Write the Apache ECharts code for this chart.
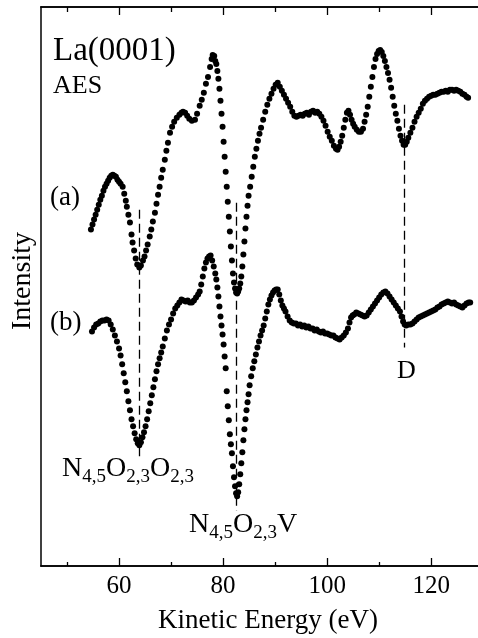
<!DOCTYPE html>
<html>
<head>
<meta charset="utf-8">
<script src="https://cdn.jsdelivr.net/npm/echarts@6/dist/echarts.min.js"></script>
<style>
	html, body { margin: 0; padding: 0; background: #fff; }
	#chart { width: 478px; height: 638px; }
</style>
</head>
<body>
<div id="chart"></div>
<script>
// 横轴刻度
var majorTicks = [60, 80, 100, 120];
var minorTicks = [50, 70, 90, 110];
var tickLabels = [60, 80, 100, 120];

// 谱线 (a)：[动能 eV, 强度]
var curveA = [
	[54.6,337],[54.9,342],[55.2,347],[55.5,352],[55.8,357],[56.1,362],[56.4,367],[56.7,371],[57.0,376],[57.3,380],
	[57.6,383],[57.9,386],[58.2,389],[58.5,391],[58.8,392],[59.1,391],[59.4,390],[59.7,387],[60.0,385],[60.3,383],
	[60.7,380],[61.0,373],[61.3,366],[61.5,360],[61.8,352],[62.1,344],[62.4,332],[62.6,324],[62.9,316],[63.2,308],
	[63.5,302],[63.9,299],[64.2,301],[64.6,306],[64.9,310],[65.2,316],[65.5,322],[65.9,330],[66.2,337],[66.5,345],
	[66.9,354],[67.2,363],[67.5,372],[67.8,380],[68.1,389],[68.4,397],[68.8,407],[69.1,416],[69.4,424],[69.8,434],
	[70.2,440],[70.6,445],[71.1,449],[71.6,452],[72.0,454],[72.3,455],[72.7,454],[73.1,451],[73.5,448],[74.0,446],
	[74.6,447],[75.0,453],[75.5,461],[75.9,467],[76.3,474],[76.7,483],[77.1,490],[77.5,500],[77.8,508],[78.0,512],
	[78.3,511],[78.5,506],[78.7,503],[78.9,496],[79.1,488],[79.3,478],[79.5,466],[79.7,453],[79.9,440],[80.1,425],
	[80.3,410],[80.5,395],[80.7,380],[80.9,365],[81.1,350],[81.3,335],[81.5,320],[81.7,306],[81.9,293],[82.1,284],
	[82.3,278],[82.5,274],[82.7,273],[82.9,275],[83.1,278],[83.3,283],[83.5,290],[83.7,300],[83.9,312],[84.1,325],
	[84.3,338],[84.5,350],[84.7,361],[84.9,371],[85.2,380],[85.5,390],[85.8,400],[86.1,410],[86.4,418],[86.7,426],
	[87.0,433],[87.3,439],[87.7,447],[88.1,455],[88.5,462],[88.9,468],[89.3,473],[89.7,478],[90.1,482],[90.5,484],
	[90.9,480],[91.3,476],[91.7,472],[92.1,468],[92.5,464],[92.9,460],[93.3,455],[93.7,451],[94.1,450],[94.5,451],
	[94.9,452],[95.3,451],[95.7,453],[96.1,454],[96.5,452],[96.9,455],[97.3,456],[97.7,454],[98.1,455],[98.5,453],
	[98.9,450],[99.3,446],[99.7,441],[100.1,435],[100.5,430],[100.9,426],[101.3,421],[101.7,418],[102.0,417],[102.3,420],
	[102.6,425],[102.9,431],[103.2,439],[103.5,447],[103.8,454],[104.1,456],[104.4,452],[104.7,447],[105.0,443],[105.3,440],
	[105.7,437],[106.1,435],[106.5,435],[106.9,438],[107.2,445],[107.5,452],[107.8,460],[108.1,470],[108.4,480],[108.7,490],
	[109.0,500],[109.3,508],[109.6,513],[109.9,516],[110.2,517],[110.5,515],[110.8,511],[111.1,506],[111.4,500],[111.7,494],
	[112.0,487],[112.3,479],[112.6,470],[112.9,461],[113.2,453],[113.5,446],[113.8,438],[114.1,431],[114.4,426],[114.7,422],
	[115.0,422],[115.3,425],[115.6,429],[116.0,434],[116.4,439],[116.8,445],[117.2,450],[117.6,454],[118.0,458],[118.4,463],
	[118.8,466],[119.2,468],[119.6,470],[120.0,471],[120.4,472],[120.8,472],[121.2,473],[121.6,474],[122.0,475],[122.4,475],
	[122.8,476],[123.2,475],[123.6,477],[124.0,477],[124.4,476],[124.8,477],[125.2,476],[125.6,475],[126.0,473],[126.4,472],
	[126.8,470],[127.1,469]
];

// 谱线 (b)
var curveB = [
	[54.8,235],[55.2,239],[55.6,242],[56.0,243],[56.4,245],[56.8,246],[57.2,246],[57.6,247],[58.0,246],[58.4,242],
	[58.8,237],[59.2,231],[59.6,225],[60.0,218],[60.3,211],[60.6,202],[60.9,193],[61.2,184],[61.5,175],[61.8,165],
	[62.1,156],[62.4,147],[62.7,140],[63.0,133],[63.3,127],[63.6,123],[63.9,121],[64.2,124],[64.5,129],[64.8,134],
	[65.1,140],[65.4,147],[65.7,155],[66.0,163],[66.3,171],[66.6,179],[66.9,187],[67.2,195],[67.5,202],[67.8,208],
	[68.1,214],[68.4,220],[68.8,228],[69.2,236],[69.6,242],[70.0,247],[70.4,253],[70.8,258],[71.2,261],[71.6,264],
	[72.0,267],[72.4,266],[72.8,265],[73.2,266],[73.6,264],[74.0,264],[74.4,266],[74.8,269],[75.2,272],[75.5,275],
	[75.8,282],[76.1,290],[76.4,298],[76.7,304],[77.0,308],[77.3,310],[77.6,311],[77.9,306],[78.2,300],[78.5,293],
	[78.7,287],[78.9,279],[79.1,270],[79.3,260],[79.5,250],[79.7,241],[79.9,232],[80.1,222],[80.3,210],[80.5,198],
	[80.7,175],[80.9,160],[81.1,146],[81.3,132],[81.5,122],[81.7,113],[81.9,100],[82.1,89],[82.3,80],[82.5,73],
	[82.7,70],[82.9,74],[83.1,82],[83.3,92],[83.5,103],[83.7,114],[83.9,126],[84.1,137],[84.3,147],[84.5,156],
	[84.7,164],[84.9,172],[85.1,181],[85.4,190],[85.7,198],[86.0,205],[86.3,212],[86.6,219],[86.9,225],[87.2,231],
	[87.5,236],[87.8,241],[88.1,248],[88.4,255],[88.7,262],[89.0,267],[89.3,271],[89.6,274],[89.9,276],[90.2,277],
	[90.5,277],[90.8,272],[91.1,266],[91.4,261],[91.7,258],[92.0,255],[92.4,250],[92.8,246],[93.2,244],[93.6,243],
	[94.0,243],[94.4,241],[94.8,242],[95.2,240],[95.6,241],[96.0,239],[96.4,240],[96.8,238],[97.2,238],[97.6,236],
	[98.0,237],[98.4,235],[98.8,234],[99.2,235],[99.6,233],[100.0,233],[100.4,232],[100.8,231],[101.2,231],[101.6,229],
	[102.0,228],[102.4,227],[102.8,229],[103.2,231],[103.6,234],[104.0,238],[104.3,244],[104.6,249],[104.9,251],[105.2,252],
	[105.6,254],[106.0,253],[106.4,252],[106.8,251],[107.2,250],[107.6,251],[108.0,254],[108.4,257],[108.8,260],[109.2,263],
	[109.6,266],[110.0,269],[110.4,272],[110.8,274],[111.2,275],[111.6,273],[112.0,270],[112.4,267],[112.8,264],[113.2,261],
	[113.6,258],[114.0,255],[114.3,250],[114.6,245],[114.9,242],[115.2,241],[115.6,242],[116.0,242],[116.4,243],[116.8,245],
	[117.2,247],[117.6,249],[118.0,250],[118.4,251],[118.8,252],[119.2,253],[119.6,254],[120.0,255],[120.4,256],[120.8,257],
	[121.2,259],[121.6,260],[122.0,262],[122.4,263],[122.8,264],[123.2,265],[123.6,264],[124.0,263],[124.4,264],[124.8,262],
	[125.2,261],[125.6,260],[126.0,259],[126.4,261],[126.8,263],[127.2,264],[127.5,264]
];

// 虚线标记 [能量, 上端, 下端]
var peakLines = [
	[63.9, 357, 110],
	[82.6, 364, 55],
	[114.8, 462, 219]
];

var serif = 'Liberation Serif';

function axisX(pos, ticks, len, withLabel) {
	return {
		type: 'value',
		min: 45,
		max: 129,
		position: pos,
		axisLine: { show: true, lineStyle: { color: '#000', width: 1.6 } },
		axisTick: { inside: true, length: len, customValues: ticks, lineStyle: { color: '#000', width: 1.3 } },
		axisLabel: withLabel ? {
			customValues: tickLabels, color: '#000', fontSize: 25, fontFamily: serif, margin: 8
		} : { show: false },
		splitLine: { show: false }
	};
}

var echart = echarts.init(document.getElementById('chart'));

var lines = [];
for (var i = 0; i < peakLines.length; i++) {
	lines.push([{ coord: [peakLines[i][0], peakLines[i][1]] }, { coord: [peakLines[i][0], peakLines[i][2]] }]);
}

var subLabel = function(parts) {
	// parts: ['N','4,5','O','2,3',...]
	var s = '';
	for (var i = 0; i < parts.length; i++) {
		s += '{' + (i % 2 == 0 ? 'm' : 's') + '|' + parts[i] + '}';
	}
	return s;
};
var richSub = {
	m: { fontSize: 28, fontFamily: serif, lineHeight: 36, fill: '#000' },
	s: { fontSize: 19, fontFamily: serif, lineHeight: 10, verticalAlign: 'bottom', fill: '#000' }
};

option = {
	animation: false,
	backgroundColor: '#fff',
	grid: { left: 41, right: 0, top: 7, bottom: 72 },
	xAxis: [
		axisX('bottom', majorTicks, 8, true),
		axisX('bottom', minorTicks, 4, false),
		axisX('top', majorTicks, 8, false),
		axisX('top', minorTicks, 5, false)
	],
	yAxis: {
		type: 'value',
		min: 0,
		max: 560,
		axisLine: { show: true, lineStyle: { color: '#000', width: 1.5 } },
		axisTick: { show: false },
		axisLabel: { show: false },
		splitLine: { show: false }
	},
	series: [{
		name: 'a',
		type: 'scatter',
		data: curveA,
		symbolSize: 6,
		itemStyle: { color: '#000', opacity: 1 },
		markLine: {
			silent: true,
			symbol: 'none',
			label: { show: false },
			lineStyle: { color: '#000', width: 1.3, type: [9, 5], opacity: 1 },
			data: lines
		}
	}, {
		name: 'b',
		type: 'scatter',
		data: curveB,
		symbolSize: 6,
		itemStyle: { color: '#000', opacity: 1 }
	}],
	graphic: [
		{ type: 'text', left: 53, top: 35, style: { text: 'La(0001)', fontSize: 33, fontFamily: serif, fill: '#000' } },
		{ type: 'text', left: 53, top: 73, style: { text: 'AES', fontSize: 26, fontFamily: serif, fill: '#000' } },
		{ type: 'text', left: 50, top: 184, style: { text: '(a)', fontSize: 27, fontFamily: serif, fill: '#000' } },
		{ type: 'text', left: 50, top: 309, style: { text: '(b)', fontSize: 27, fontFamily: serif, fill: '#000' } },
		{ type: 'text', left: 397, top: 358, style: { text: 'D', fontSize: 26, fontFamily: serif, fill: '#000' } },
		{ type: 'text', left: 62, top: 455, style: { text: subLabel(['N', '4,5', 'O', '2,3', 'O', '2,3']), rich: richSub } },
		{ type: 'text', left: 189, top: 511, style: { text: subLabel(['N', '4,5', 'O', '2,3', 'V']), rich: richSub } },
		{ type: 'text', left: 158, top: 607, style: { text: 'Kinetic Energy (eV)', fontSize: 27, fontFamily: serif, fill: '#000' } },
		{ type: 'text', x: 23, y: 281, rotation: Math.PI / 2,
			style: { text: 'Intensity', fontSize: 28, fontFamily: serif, fill: '#000', align: 'center', verticalAlign: 'middle' } }
	]
};

echart.setOption(option);
</script>
</body>
</html>
